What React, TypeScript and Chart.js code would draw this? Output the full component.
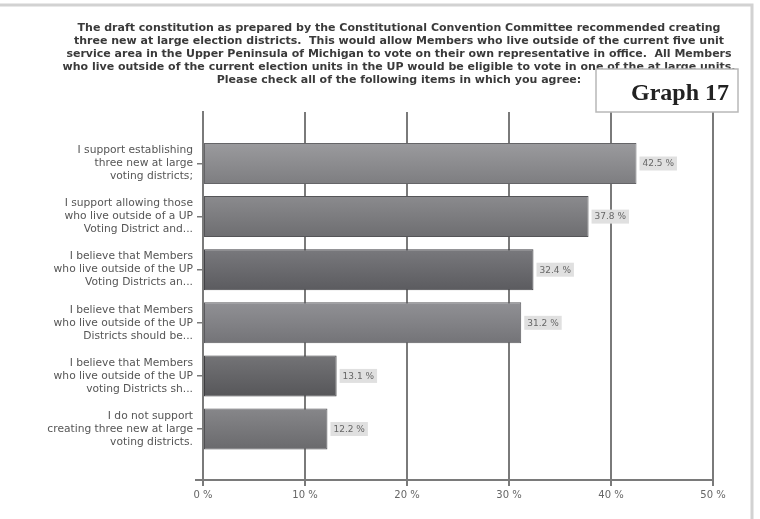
import React, { useEffect, useRef } from 'react';
import { Chart, registerables } from 'chart.js';

Chart.register(...registerables);

const titleLines = [
  'The draft constitution as prepared by the Constitutional Convention Committee recommended creating',
  'three new at large election districts.  This would allow Members who live outside of the current five unit',
  'service area in the Upper Peninsula of Michigan to vote on their own representative in office.  All Members',
  'who live outside of the current election units in the UP would be eligible to vote in one of the at large units.',
  'Please check all of the following items in which you agree:',
];

const categories: string[][] = [
  ['I support establishing', 'three new at large', 'voting districts;'],
  ['I support allowing those', 'who live outside of a UP', 'Voting District and...'],
  ['I believe that Members', 'who live outside of the UP', 'Voting Districts an...'],
  ['I believe that Members', 'who live outside of the UP', 'Districts should be...'],
  ['I believe that Members', 'who live outside of the UP', 'voting Districts sh...'],
  ['I do not support', 'creating three new at large', 'voting districts.'],
];

const values = [42.5, 37.8, 32.4, 31.2, 13.1, 12.2];

const barColors = ['#8d8d90', '#7d7d80', '#6b6b6f', '#838387', '#666669', '#79797c'];

const xTickValues = [0, 10, 20, 30, 40, 50];

const badgeText = 'Graph 17';

const FONT = '"DejaVu Sans", Verdana, sans-serif';

function shade(hex: string, amt: number): string {
  const n = parseInt(hex.slice(1), 16);
  const r = Math.max(0, Math.min(255, ((n >> 16) & 255) + amt));
  const g = Math.max(0, Math.min(255, ((n >> 8) & 255) + amt));
  const b = Math.max(0, Math.min(255, (n & 255) + amt));
  return `rgb(${r},${g},${b})`;
}

export default function App() {
  const ref = useRef<HTMLCanvasElement>(null);

  useEffect(() => {
    const canvas = ref.current!;
    const decor = {
      id: 'decor',
      beforeDraw(chart: any) {
        const ctx = chart.ctx;
        ctx.save();
        ctx.strokeStyle = '#d2d2d2';
        ctx.lineWidth = 3;
        ctx.beginPath();
        ctx.moveTo(0, 5);
        ctx.lineTo(752, 5);
        ctx.lineTo(752, 519);
        ctx.stroke();
        ctx.fillStyle = '#3a3a3a';
        ctx.font = `bold 11px ${FONT}`;
        ctx.textAlign = 'center';
        ctx.textBaseline = 'middle';
        titleLines.forEach((t, i) => ctx.fillText(t, 399, 28 + i * 13));
        ctx.restore();
      },
      afterDraw(chart: any) {
        const ctx = chart.ctx;
        const area = chart.chartArea;
        ctx.save();
        ctx.strokeStyle = '#7a7a7a';
        ctx.lineWidth = 2;
        ctx.beginPath();
        ctx.moveTo(area.left - 8, area.bottom);
        ctx.lineTo(area.left, area.bottom);
        ctx.stroke();
        const meta = chart.getDatasetMeta(0);
        ctx.font = `9px ${FONT}`;
        ctx.textBaseline = 'middle';
        ctx.textAlign = 'left';
        meta.data.forEach((bar: any, i: number) => {
          const txt = `${values[i].toFixed(1)} %`;
          const w = ctx.measureText(txt).width + 6;
          const x = bar.x + 3;
          const y = bar.y;
          ctx.fillStyle = '#e0e0e0';
          ctx.fillRect(x, y - 7, w, 14);
          ctx.fillStyle = '#666';
          ctx.fillText(txt, x + 3, y + 0.5);
        });
        ctx.fillStyle = '#fff';
        ctx.fillRect(596, 69, 142, 43);
        ctx.strokeStyle = '#b8b8b8';
        ctx.lineWidth = 1.5;
        ctx.strokeRect(596, 69, 142, 43);
        ctx.fillStyle = '#222';
        ctx.font = 'bold 24px "Liberation Serif", "Times New Roman", serif';
        ctx.textAlign = 'right';
        ctx.textBaseline = 'alphabetic';
        ctx.fillText(badgeText, 729, 100);
        ctx.restore();
      },
    };

    const chart = new Chart(canvas, {
      type: 'bar',
      data: {
        datasets: [
          {
            data: values.map((v, i) => ({ x: v, y: i })) as any,
            backgroundColor: (c: any) => {
              const base = barColors[c.dataIndex] || '#777777';
              const ch = c.chart;
              if (!ch.chartArea || !ch.scales || !ch.scales.y) return base;
              const yc = ch.scales.y.getPixelForValue(c.dataIndex);
              const g = ch.ctx.createLinearGradient(0, yc - 21, 0, yc + 21);
              g.addColorStop(0, shade(base, 14));
              g.addColorStop(1, shade(base, -16));
              return g;
            },
            borderColor: barColors.map((c) => shade(c, -40)),
            borderWidth: 1,
            borderSkipped: false,
            categoryPercentage: 1,
            barPercentage: 0.772,
          },
        ],
      },
      options: {
        indexAxis: 'y',
        responsive: false,
        animation: false,
        layout: { padding: { top: 112, right: 47, left: 0, bottom: 0 } },
        plugins: {
          legend: { display: false },
          tooltip: { enabled: false },
          title: { display: false },
        },
        scales: {
          x: {
            type: 'linear',
            min: 0,
            max: 50,
            afterBuildTicks: (s: any) => {
              s.ticks = xTickValues.map((v) => ({ value: v }));
            },
            afterFit: (s: any) => {
              s.height = 39;
            },
            grid: {
              color: '#7a7a7a',
              lineWidth: 2,
              tickLength: 6,
              drawOnChartArea: true,
            },
            border: { display: true, color: '#7a7a7a', width: 2 },
            ticks: {
              padding: 3,
              color: '#666',
              font: { family: FONT, size: 10 },
              callback: (v: any) => `${v} %`,
            },
          },
          y: {
            type: 'linear',
            reverse: true,
            offset: false,
            min: -0.97,
            max: 5.96,
            afterFit: (s: any) => {
              s.width = 203;
            },
            grid: {
              offset: false,
              color: '#7a7a7a',
              lineWidth: 1.5,
              tickLength: 6,
              drawOnChartArea: false,
            },
            border: { display: true, color: '#7a7a7a', width: 2 },
            ticks: {
              stepSize: 1,
              includeBounds: false,
              autoSkip: false,
              padding: 4,
              color: '#555',
              font: { family: FONT, size: 10.7, lineHeight: 13 / 10.7 },
              callback: (v: any) => {
                const i = Math.round(Number(v));
                return Math.abs(Number(v) - i) < 1e-6 && categories[i] ? categories[i] : '';
              },
            },
          },
        },
      },
      plugins: [decor],
    } as any);

    return () => chart.destroy();
  }, []);

  return (
    <div style={{ position: 'fixed', left: 0, top: 0, width: 760, height: 519, background: '#fff' }}>
      <canvas ref={ref} width={760} height={519} style={{ display: 'block', width: 760, height: 519 }} />
    </div>
  );
}
